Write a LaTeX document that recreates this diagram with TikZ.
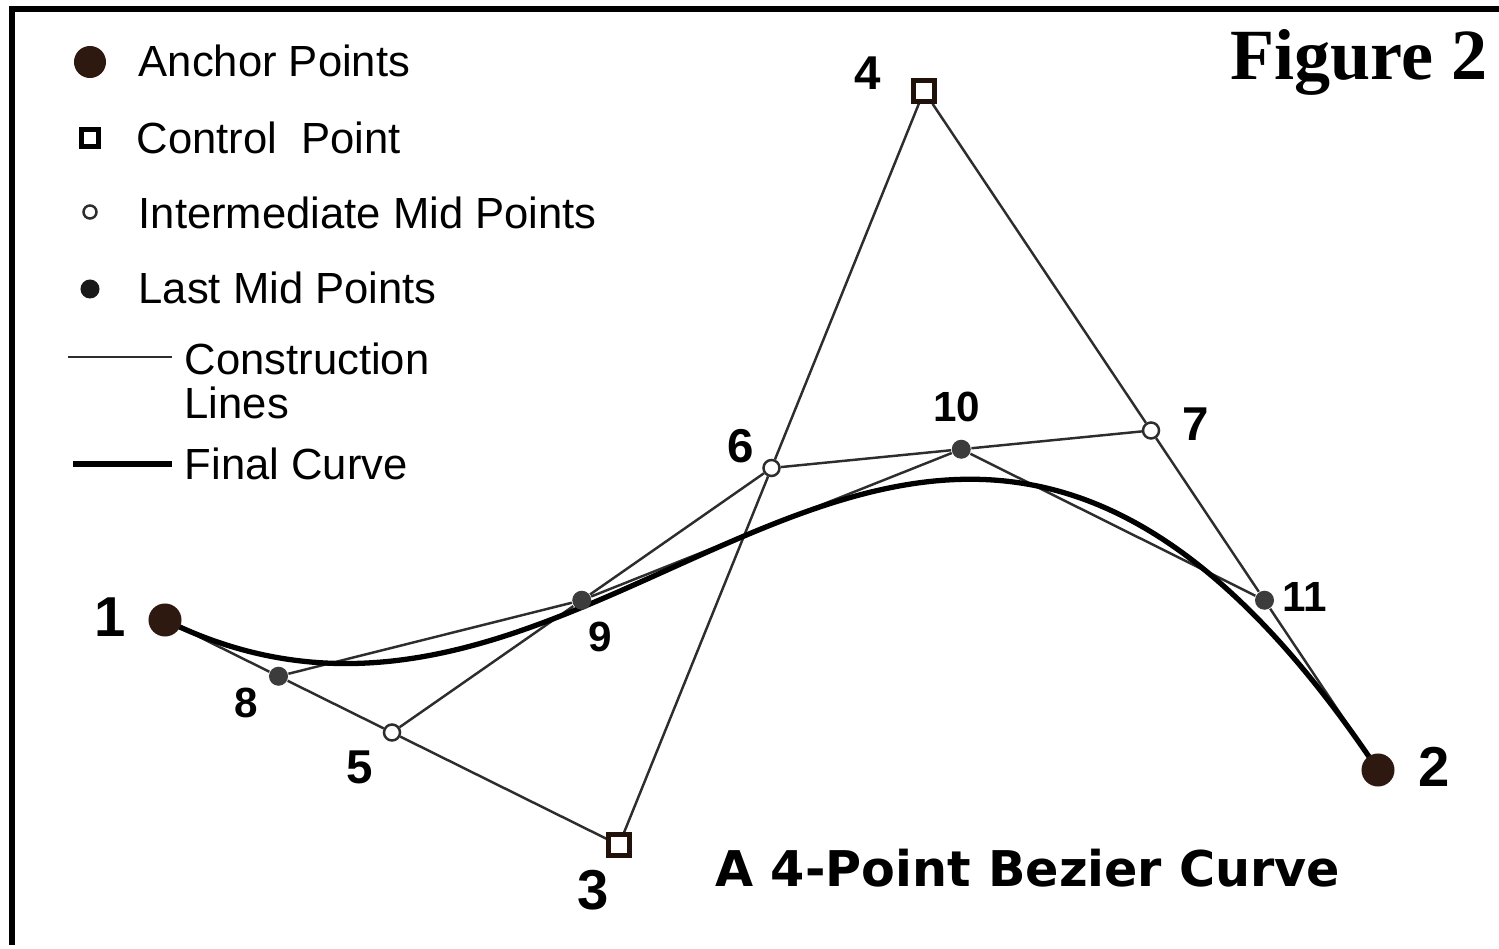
\documentclass[tikz,border=0pt]{standalone}
\usepackage{fontspec}
\setmainfont{Liberation Sans}
\newfontfamily\titlefont{Liberation Serif}
\newfontfamily\capfont{DejaVu Sans}
\usetikzlibrary{calc,backgrounds}
\definecolor{anchorbrown}{RGB}{45,25,15}
\definecolor{linegray}{RGB}{45,45,45}
\definecolor{lastgray}{RGB}{60,60,60}

\begin{document}
\begin{tikzpicture}[
  x=0.01cm, y=-0.01cm,
  every node/.style={inner sep=0pt},
  anchorpt/.style={circle,fill=anchorbrown,minimum size=0.33cm},
  ctrlpt/.style={rectangle,draw=anchorbrown!70!black,line width=1.3pt,fill=white,minimum size=0.21cm},
  midpt/.style={circle,draw=linegray,line width=0.7pt,fill=white,minimum size=0.16cm},
  lastpt/.style={circle,fill=lastgray,minimum size=0.19cm},
  constr/.style={draw=linegray,line width=0.7pt},
  final/.style={draw=black,line width=1.5pt},
  bignum/.style={font=\fontsize{16}{16}\selectfont\bfseries},
  midnum/.style={font=\fontsize{13.5}{13.5}\selectfont\bfseries},
  smallnum/.style={font=\fontsize{12}{12}\selectfont\bfseries},
  legtext/.style={font=\fontsize{12.4}{12.5}\selectfont,anchor=west,align=left}
]
\useasboundingbox (0,0) rectangle (1499,949);

% Frame
\draw[line width=0.06cm] (12,945) -- (12,9) -- (1499,9);

% Anchor and control points
\node[anchorpt] (p1) at (165,620)  {};
\node[anchorpt] (p2) at (1378,770) {};
\node[ctrlpt]   (p3) at (619,845)  {};
\node[ctrlpt]   (p4) at (924,91)   {};

% Intermediate mid points
\node[midpt] (p5) at ($(p1)!0.5!(p3)$) {};
\node[midpt] (p6) at ($(p3)!0.5!(p4)$) {};
\node[midpt] (p7) at ($(p4)!0.5!(p2)$) {};

% Last mid points
\node[lastpt] (p8)  at ($(p1)!0.5!(p5)$) {};
\node[lastpt] (p9)  at ($(p5)!0.5!(p6)$) {};
\node[lastpt] (p10) at ($(p6)!0.5!(p7)$) {};
\node[lastpt] (p11) at ($(p7)!0.5!(p2)$) {};

% Construction lines and final curve
\begin{scope}[on background layer]
\draw[constr] (p1) -- (p8) -- (p5) -- (p3) -- (p6) -- (p4) -- (p7) -- (p11) -- (p2);
\draw[constr] (p5) -- (p9) -- (p6) -- (p10) -- (p7);
\draw[constr] (p8) -- (p9) -- (p10) -- (p11);
\draw[final] (p1.center) .. controls (p3.center) and (p4.center) .. (p2.center);
\end{scope}

% Point numbers
\node[bignum]   (n1)  at (110,617)  {1};
\node[bignum]   (n2)  at (1434,767) {2};
\node[bignum]   (n3)  at (593,890)  {3};
\node[midnum]   (n4)  at (868,73)   {4};
\node[midnum]   (n5)  at (360,767)  {5};
\node[midnum]   (n6)  at (741,446)  {6};
\node[midnum]   (n7)  at (1196,424) {7};
\node[smallnum] (n8)  at (246,703)  {8};
\node[smallnum] (n9)  at (600,637)  {9};
\node[smallnum] (n10) at (957,407)  {10};
\node[smallnum] (n11) at (1305,597) {11};

% Legend
\node[anchorpt,minimum size=0.32cm] (k1) at (90,62) {};
\node[legtext] (t1) at (138,61) {Anchor Points};
\node[ctrlpt,minimum size=0.17cm,draw=black] (k2) at (90,138) {};
\node[legtext] (t2) at (136,138) {Control\ \ Point};
\node[midpt,minimum size=0.13cm] (k3) at (90,212) {};
\node[legtext] (t3) at (138,213) {Intermediate Mid Points};
\node[lastpt,fill=black!90,minimum size=0.19cm] (k4) at (90,289) {};
\node[legtext] (t4) at (138,288) {Last Mid Points};
\coordinate (k5a) at (68,357);
\coordinate (k5b) at (172,357);
\draw[constr] (k5a) -- (k5b);
\node[legtext] (t5) at (184,381) {Construction\\Lines};
\coordinate (k6a) at (73,464);
\coordinate (k6b) at (172,464);
\draw[final] (k6a) -- (k6b);
\node[legtext] (t6) at (184,464) {Final Curve};

% Titles
\node[font=\titlefont\bfseries\fontsize{20.5}{20.5}\selectfont,anchor=base west] (fig) at (1230,80) {Figure 2};
\node[font=\capfont\bfseries\fontsize{14}{14}\selectfont,anchor=base west] (cap) at (715,887) {A 4-Point Bezier Curve};

\end{tikzpicture}
\end{document}
